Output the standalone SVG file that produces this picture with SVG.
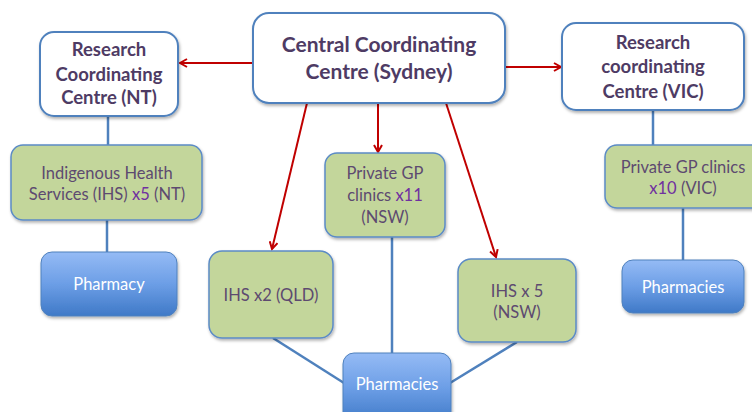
<svg xmlns="http://www.w3.org/2000/svg" width="752" height="412" viewBox="0 0 752 412">
<style>
.hub{fill:#fff;stroke:#4f81bd;stroke-width:2}
.grn{fill:#c3d69b;stroke:#5b8bc6;stroke-width:1.5}
.blu{fill:url(#bg);stroke:#4f81bd;stroke-width:1}
.ht{font-family:Lato,"Liberation Sans",sans-serif;font-weight:bold;fill:#4e3b64;text-anchor:middle}
.gt{font-family:Lato,"Liberation Sans",sans-serif;font-size:16.5px;fill:#5d4a70;text-anchor:middle}
.bt{font-family:Lato,"Liberation Sans",sans-serif;font-size:16.5px;fill:#fff;text-anchor:middle}
.pu{fill:#7030a0}
.red{stroke:#c00000;stroke-width:2;fill:none;marker-end:url(#ah)}
.bl{stroke:#4f81bd;stroke-width:2.5;fill:none}
</style>
<defs>
<linearGradient id="bg" x1="0" y1="0" x2="0" y2="1">
<stop offset="0" stop-color="#95bbf5"/>
<stop offset="0.5" stop-color="#6c9ee6"/>
<stop offset="1" stop-color="#3f79c7"/>
</linearGradient>
<filter id="sh" x="-10%" y="-10%" width="130%" height="130%">
<feDropShadow dx="1" dy="2" stdDeviation="1.5" flood-color="#000" flood-opacity="0.3"/>
</filter>
<marker id="ah" markerWidth="10" markerHeight="10" refX="8" refY="5" orient="auto" markerUnits="userSpaceOnUse">
<path d="M1,1 L8,5 L1,9" fill="none" stroke="#c00000" stroke-width="2"/>
</marker>
</defs>
<g id="connectors">
<line class="red" x1="253" y1="63" x2="180" y2="63"/>
<line class="red" x1="505" y1="67" x2="561" y2="67"/>
<line class="red" x1="378" y1="103" x2="378" y2="152"/>
<line class="red" x1="307" y1="103" x2="272" y2="249"/>
<line class="red" x1="446" y1="103" x2="496" y2="257"/>
<line class="bl" x1="108" y1="116" x2="108" y2="145"/>
<line class="bl" x1="107" y1="220" x2="107" y2="252"/>
<line class="bl" x1="392" y1="237" x2="392" y2="353"/>
<line class="bl" x1="273" y1="338" x2="344" y2="383"/>
<line class="bl" x1="517" y1="342" x2="450" y2="383"/>
<line class="bl" x1="653" y1="110" x2="653" y2="145"/>
<line class="bl" x1="683" y1="208" x2="683" y2="260"/>
</g>
<g id="central">
<rect class="hub" x="253" y="13" width="252" height="90" rx="16" filter="url(#sh)"/>
<text class="ht" font-size="21" x="379" y="52">Central Coordinating</text>
<text class="ht" font-size="21" x="379" y="79">Centre (Sydney)</text>
</g>
<g id="rcc-nt">
<rect class="hub" x="40" y="32" width="138" height="84" rx="14" filter="url(#sh)"/>
<text class="ht" font-size="18.5" x="109" y="56">Research</text>
<text class="ht" font-size="18.5" x="109" y="81">Coordinating</text>
<text class="ht" font-size="18.5" x="109" y="104">Centre (NT)</text>
</g>
<g id="rcc-vic">
<rect class="hub" x="562" y="23" width="182" height="87" rx="14" filter="url(#sh)"/>
<text class="ht" font-size="18.5" x="653" y="49">Research</text>
<text class="ht" font-size="18.5" x="653" y="73">coordinating</text>
<text class="ht" font-size="18.5" x="653" y="98">Centre (VIC)</text>
</g>
<g id="ihs-nt">
<rect class="grn" x="11" y="145" width="191" height="75" rx="12" filter="url(#sh)"/>
<text class="gt" x="107" y="179">Indigenous Health</text>
<text class="gt" x="107" y="200">Services (IHS) <tspan class="pu">x5</tspan> (NT)</text>
</g>
<g id="pharmacy-nt">
<rect class="blu" x="41" y="252" width="136" height="64" rx="11" filter="url(#sh)"/>
<text class="bt" x="109" y="290">Pharmacy</text>
</g>
<g id="gp-nsw">
<rect class="grn" x="325" y="153" width="120" height="84" rx="12" filter="url(#sh)"/>
<text class="gt" x="385" y="179">Private GP</text>
<text class="gt" x="385" y="201">clinics <tspan class="pu">x11</tspan></text>
<text class="gt" x="385" y="223">(NSW)</text>
</g>
<g id="ihs-qld">
<rect class="grn" x="209" y="251" width="124" height="87" rx="13" filter="url(#sh)"/>
<text class="gt" x="271" y="301">IHS x2 (QLD)</text>
</g>
<g id="ihs-nsw">
<rect class="grn" x="458" y="259" width="118" height="83" rx="13" filter="url(#sh)"/>
<text class="gt" x="517" y="297">IHS x 5</text>
<text class="gt" x="517" y="318">(NSW)</text>
</g>
<g id="pharmacies-nsw">
<rect class="blu" x="343" y="353" width="108" height="70" rx="11" filter="url(#sh)"/>
<text class="bt" x="397" y="390">Pharmacies</text>
</g>
<g id="gp-vic">
<rect class="grn" x="605" y="145" width="160" height="63" rx="12" filter="url(#sh)"/>
<text class="gt" x="683" y="173">Private GP clinics</text>
<text class="gt" x="683" y="194"><tspan class="pu">x10</tspan> (VIC)</text>
</g>
<g id="pharmacies-vic">
<rect class="blu" x="622" y="260" width="122" height="53" rx="11" filter="url(#sh)"/>
<text class="bt" x="683" y="293">Pharmacies</text>
</g>
</svg>
